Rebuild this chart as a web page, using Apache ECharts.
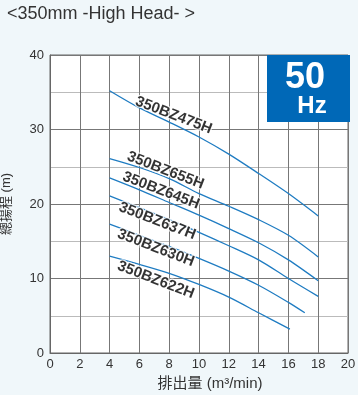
<!DOCTYPE html>
<html><head><meta charset="utf-8">
<script src="https://cdn.jsdelivr.net/npm/echarts@6/dist/echarts.min.js"></script>
<style>html,body{margin:0;padding:0;background:#f0f7fa}#c{width:358px;height:395px}</style>
</head><body><div id="c"></div>
<script>
const titleText = '<350mm -High Head- >';
const xTicks = [0,2,4,6,8,10,12,14,16,18,20];
const yTicks = [0,10,20,30,40];
const models = ['350BZ475H','350BZ655H','350BZ645H','350BZ637H','350BZ630H','350BZ622H'];
const curve475 = [[4,35.2],[6,32.9],[8,31.0],[10,29.0],[12,26.7],[14,24.1],[16,21.4],[18,18.4]];
const curve655 = [[4,26.1],[6,24.9],[8,23.4],[10,21.4],[12,19.7],[14,17.9],[16,15.8],[18,12.9]];
const curve645 = [[4,23.5],[6,21.9],[8,20.2],[10,18.5],[12,16.7],[14,14.8],[16,12.5],[18,9.7]];
const curve637 = [[4,21.1],[6,19.5],[8,17.9],[10,16.2],[12,14.4],[14,12.5],[16,10.0],[18,7.6]];
const curve630 = [[4,17.3],[6,15.8],[8,14.3],[10,12.7],[12,11.0],[14,9.1],[16,6.8],[17.1,5.4]];
const curve622 = [[4,13.0],[6,11.9],[8,10.7],[10,9.2],[12,7.5],[14,5.4],[16.1,3.2]];
const curves = [curve475, curve655, curve645, curve637, curve630, curve622];
// label anchor (data coords) for each model name
const labelAt = [[8.3,31.9],[7.75,24.5],[7.45,21.8],[7.2,17.7],[7.1,14.1],[7.1,9.8]];

const FONT = "'Liberation Sans', Arial, 'Noto Sans CJK JP', sans-serif";
const chart = echarts.init(document.getElementById('c'));
const series = curves.map((d, i) => ({
  type: 'line', name: models[i], data: d, smooth: 0.3, symbol: 'none',
  lineStyle: { color: '#1f7cc2', width: 1.3 }, z: 2, silent: true
}));
series.push({
  type: 'scatter', symbolSize: 0, z: 5, silent: true,
  data: labelAt.map((p, i) => [p[0], p[1], models[i]]),
  label: {
    show: true, position: 'inside', rotate: -21,
    formatter: p => p.value[2],
    fontFamily: FONT, fontWeight: 'bold', fontSize: 15, color: '#000',
    textBorderColor: '#fff', textBorderWidth: 2.5
  }
});
chart.setOption({
  backgroundColor: '#f0f7fa',
  animation: false,
  title: { text: titleText, left: 2, top: 0, textStyle: { fontFamily: FONT, fontSize: 18, fontWeight: 'normal', color: '#333' } },
  grid: { left: 50, right: 10, top: 55, bottom: 42, containLabel: false, outerBoundsMode: 'none', show: true, backgroundColor: '#fff', borderColor: '#666', borderWidth: 1 },
  xAxis: {
    type: 'value', min: 0, max: 20, interval: 2,
    name: '排出量 (m³/min)', nameLocation: 'middle', nameGap: 23,
    nameTextStyle: { fontFamily: FONT, fontSize: 15, color: '#333', padding: [0,0,0,22] },
    axisLine: { lineStyle: { color: '#666' } }, axisTick: { show: false },
    axisLabel: { fontFamily: FONT, fontSize: 13, color: '#333', margin: 5, formatter: v => xTicks.includes(v) ? String(v) : '' },
    splitLine: { show: true, lineStyle: { color: '#777', width: 1 } }
  },
  yAxis: {
    type: 'value', min: 0, max: 40, interval: 10,
    name: '總揚程 (m)', nameLocation: 'middle', nameGap: 37,
    nameTextStyle: { fontFamily: FONT, fontSize: 13, color: '#333' },
    axisLine: { show: true, lineStyle: { color: '#666' } }, axisTick: { show: false },
    axisLabel: { fontFamily: FONT, fontSize: 13, color: '#333', margin: 6, formatter: v => yTicks.includes(v) ? String(v) : '' },
    splitLine: { show: true, lineStyle: { color: '#777', width: 1 } },
    minorTick: { show: false, splitNumber: 2 },
    minorSplitLine: { show: true, lineStyle: { color: '#bbb', width: 1 } }
  },
  graphic: [
    { type: 'rect', left: 267, top: 55, shape: { width: 83, height: 67 }, style: { fill: '#0068b7' }, z: 10 },
    { type: 'text', x: 305, y: 78, style: { text: '50', fill: '#fff', font: "bold 36px " + FONT, align: 'center', verticalAlign: 'middle' }, z: 11 },
    { type: 'text', x: 312, y: 106, style: { text: 'Hz', fill: '#fff', font: "bold 24px " + FONT, align: 'center', verticalAlign: 'middle' }, z: 11 }
  ],
  series
});
</script></body></html>
